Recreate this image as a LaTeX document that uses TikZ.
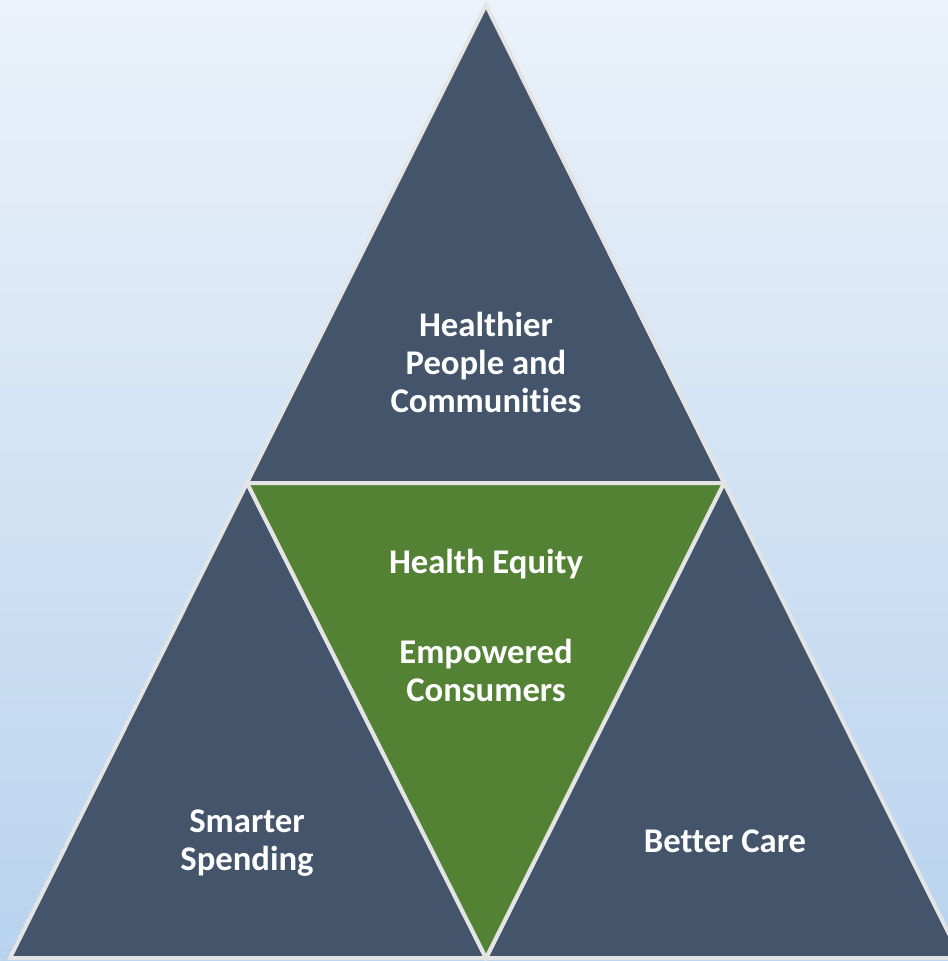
\documentclass[tikz,border=0pt]{standalone}
\usepackage{fontspec}
\setmainfont{Carlito}[Ligatures=NoCommon]
\definecolor{slate}{HTML}{44546A}
\definecolor{leaf}{HTML}{548235}
\definecolor{rim}{HTML}{E4E4E4}
\definecolor{bgtop}{HTML}{EBF2FA}
\definecolor{bgbot}{HTML}{B8D3EE}
\tikzset{
  tri/.style={fill=slate, draw=rim, line width=3pt, line join=miter},
  midtri/.style={fill=leaf, draw=rim, line width=3pt, line join=miter},
  lbl/.style={text=white, font=\bfseries\fontsize{26}{28.5}\selectfont, align=center, anchor=base, inner sep=0pt}
}
\begin{document}
\begin{tikzpicture}[x=0.75pt,y=-0.75pt]
\useasboundingbox (0,0) rectangle (948,961);
\clip (0,0) rectangle (948,961);
\shade[top color=bgtop, bottom color=bgbot] (0,0) rectangle (948,961);
\coordinate (A) at (486,5);
\coordinate (L) at (247,483);
\coordinate (R) at (724,483);
\coordinate (BL) at (10,958);
\coordinate (BM) at (486,958);
\coordinate (BR) at (961,958);
\draw[tri] (A) -- (L) -- (R) -- cycle;
\draw[tri] (L) -- (BL) -- (BM) -- cycle;
\draw[tri] (R) -- (BM) -- (BR) -- cycle;
\draw[midtri] (L) -- (R) -- (BM) -- cycle;
\node[lbl] (top) at (486,412) {Healthier\\People and\\Communities};
\node[lbl] (eq) at (486,573) {Health Equity};
\node[lbl] (emp) at (486,701) {Empowered\\Consumers};
\node[lbl] (sm) at (247,870) {Smarter\\Spending};
\node[lbl] (bc) at (725,852) {Better Care};
\end{tikzpicture}
\end{document}
